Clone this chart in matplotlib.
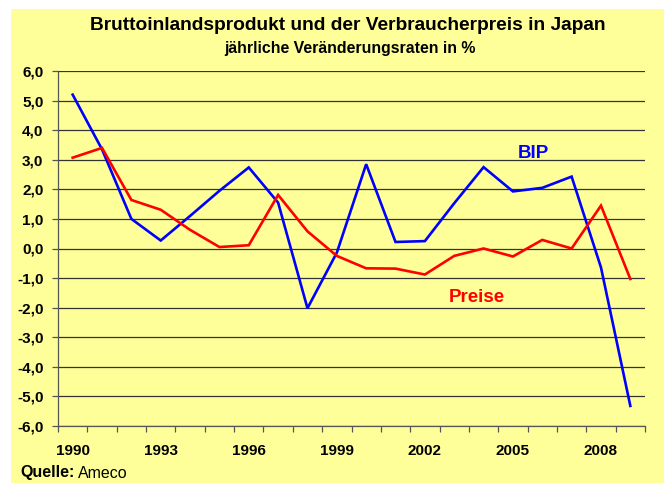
import matplotlib
matplotlib.use("Agg")
import matplotlib.pyplot as plt
from matplotlib.patches import Rectangle
from matplotlib.ticker import FixedLocator, FuncFormatter

years = list(range(1990, 2010))
bip = [5.2, 3.35, 1.0, 0.27, 1.1, 1.95, 2.74, 1.55, -2.02, -0.14,
       2.85, 0.22, 0.25, 1.53, 2.75, 1.93, 2.05, 2.43, -0.64, -5.32]
preise = [3.07, 3.4, 1.64, 1.31, 0.63, 0.05, 0.11, 1.81, 0.58, -0.25,
          -0.67, -0.68, -0.88, -0.25, 0.0, -0.27, 0.29, 0.0, 1.45, -1.03]
year_labels = ["1990", "1993", "1996", "1999", "2002", "2005", "2008"]

plt.rcParams['font.family'] = ['Liberation Sans', 'DejaVu Sans']

W, H = 664, 483
fig = plt.figure(figsize=(W / 100, H / 100), dpi=100)
fig.patch.set_facecolor('white')
bg = '#FFFF99'
fig.add_artist(Rectangle((11 / W, 0), 1 - 11 / W, 1 - 9 / H,
                         transform=fig.transFigure, facecolor=bg,
                         edgecolor='none', zorder=-10))

ax = fig.add_axes([58 / W, (H - 426) / H, (645 - 58) / W, (426 - 71) / H])
ax.set_facecolor('none')

x = list(range(len(years)))
ax.plot(x, bip, color='#0000FF', lw=1.9, zorder=3, solid_joinstyle='miter')
ax.plot(x, preise, color='#FF0000', lw=1.9, zorder=3, solid_joinstyle='miter')

ax.set_xlim(-0.5, len(years) - 0.5)
ax.set_ylim(-6, 6)
ax.set_yticks([v for v in range(-6, 7)])
ax.yaxis.set_major_formatter(FuncFormatter(lambda v, p: f"{v:.1f}".replace('.', ',')))
ax.grid(axis='y', color='#333333', lw=0.9, zorder=1)
ax.set_axisbelow(True)

major_pos = [years.index(int(y)) for y in year_labels]
ax.xaxis.set_major_locator(FixedLocator(major_pos))
ax.set_xticklabels(year_labels)
ax.xaxis.set_minor_locator(FixedLocator([i - 0.5 for i in range(len(years) + 1)]))
ax.tick_params(axis='x', which='major', length=0, pad=13)
ax.tick_params(axis='x', which='minor', length=4, width=0.9, color='#555555', direction='out')
ax.tick_params(axis='y', length=4, width=0.9, color='#555555', direction='out', pad=6.5)
for lab in ax.get_xticklabels() + ax.get_yticklabels():
    lab.set_fontweight('bold')
    lab.set_fontsize(11)

for s in ['top', 'right']:
    ax.spines[s].set_visible(False)
for s in ['left', 'bottom']:
    ax.spines[s].set_color('#555555')
    ax.spines[s].set_linewidth(0.9)

ax.text(533 / W, 1 - 153 / H, "BIP", transform=fig.transFigure, color='#0000FF',
        fontsize=13.5, fontweight='bold', ha='center', va='center')
ax.text(477 / W, 1 - 297 / H, "Preise", transform=fig.transFigure, color='#FF0000',
        fontsize=13.5, fontweight='bold', ha='center', va='center')

fig.text(348 / W, 1 - 25 / H, "Bruttoinlandsprodukt und der Verbraucherpreis in Japan",
         fontsize=13.8, fontweight='bold', ha='center', va='center')
fig.text(350 / W, 1 - 48 / H, "jährliche Veränderungsraten in %",
         fontsize=11.4, fontweight='bold', ha='center', va='center')

t = fig.text(20 / W, 1 - 473 / H, "Quelle:", fontsize=11.5, fontweight='bold',
             ha='left', va='center')
fig.canvas.draw()
bb = t.get_window_extent()
fig.text(bb.x1 / W + 4 / W, 1 - 473 / H, "Ameco", fontsize=11.5, ha='left', va='center')

fig.savefig('out.png', dpi=100, facecolor=fig.get_facecolor())
